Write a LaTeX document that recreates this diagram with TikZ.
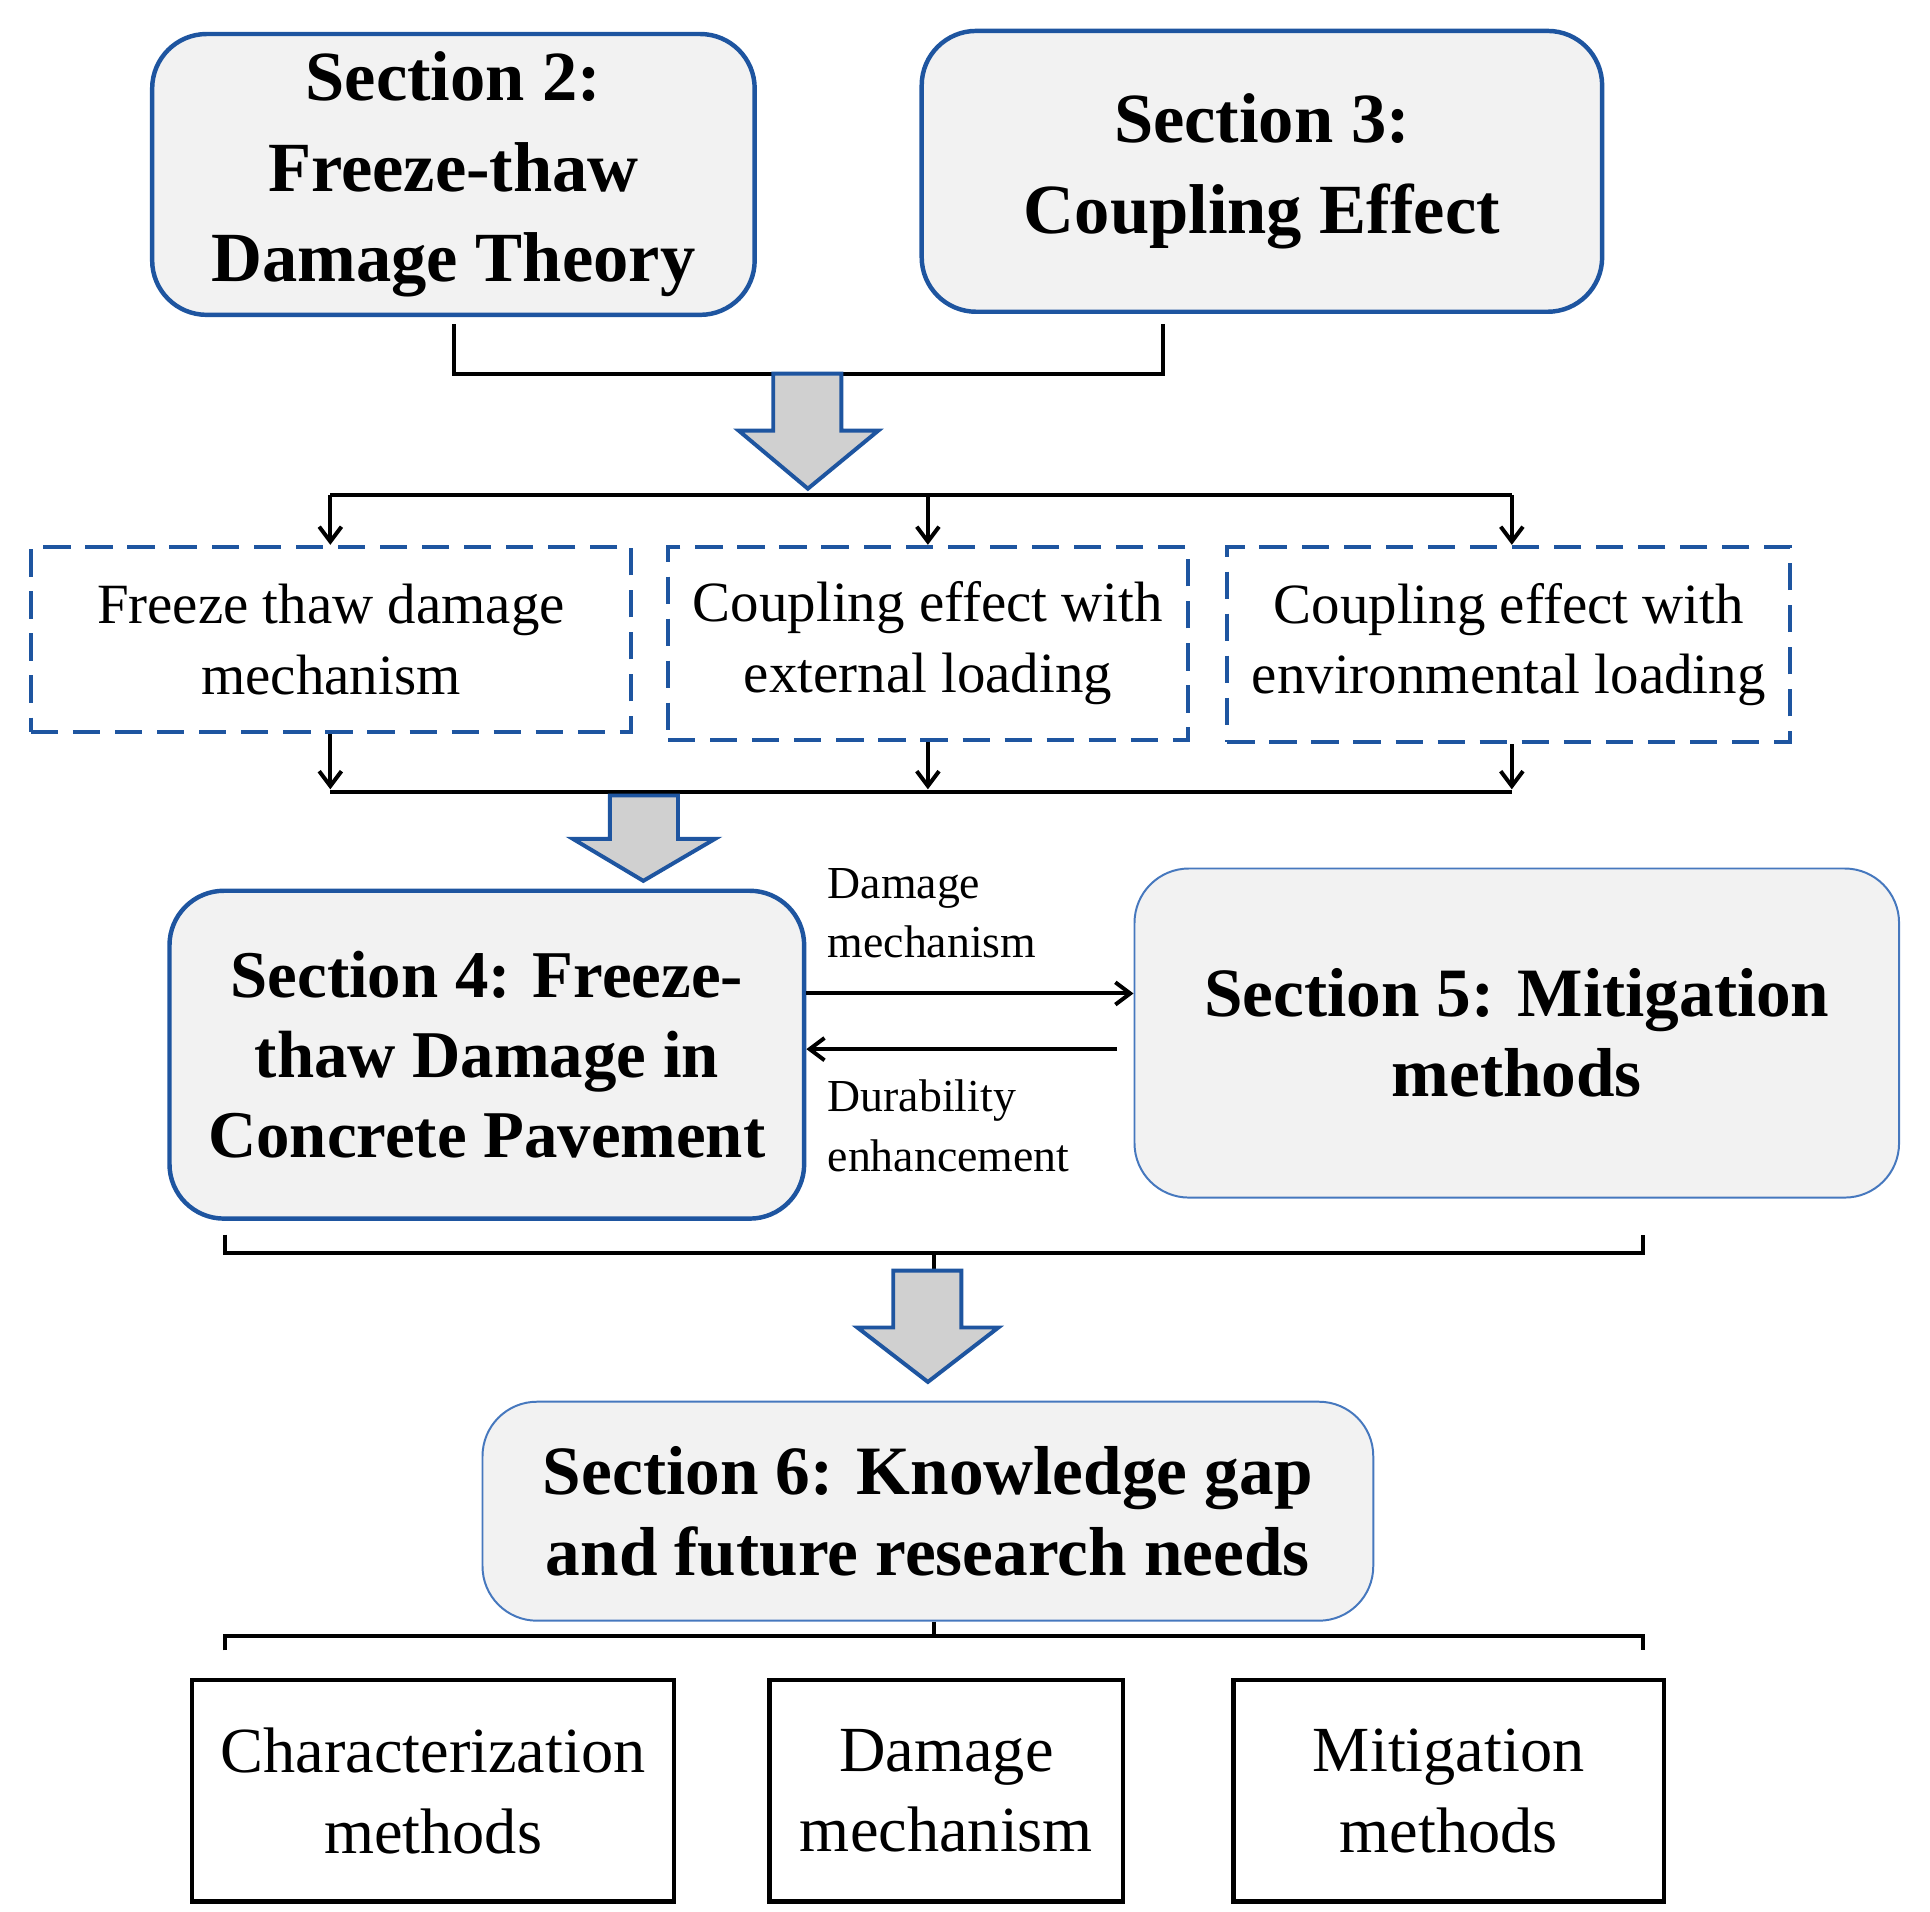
\documentclass[tikz,border=0pt]{standalone}
\usepackage{fontspec}
\setmainfont{Liberation Serif}
\usetikzlibrary{arrows.meta}
\definecolor{bl}{RGB}{30,85,160}
\definecolor{lbl}{RGB}{70,120,190}
\definecolor{bx}{RGB}{242,242,242}
\definecolor{ar}{RGB}{208,208,208}
\begin{document}
\begin{tikzpicture}[x=0.5pt,y=-0.5pt,
 sec/.style={draw=bl,line width=1.8pt,fill=bx,rounded corners=22pt,align=center,font=\fontsize{28.5}{36.5}\selectfont\bfseries},
 secl/.style={draw=lbl,line width=0.8pt,fill=bx,rounded corners=22pt,align=center,font=\fontsize{28}{32.5}\selectfont\bfseries},
 dbox/.style={draw=bl,line width=1.6pt,dash pattern=on 11pt off 6pt,align=center,font=\fontsize{23}{28.5}\selectfont},
 bot/.style={draw=black,line width=1.7pt,align=center,font=\fontsize{26}{32.5}\selectfont},
 ln/.style={line width=1.6pt},
 arr/.style={ln,-{Straight Barb[length=6pt,width=9pt]}},
 big/.style={draw=bl,line width=1.6pt,fill=ar,line join=miter}]
\useasboundingbox (0,0) rectangle (1560,1545);
% boxes
\node[sec,minimum width=243.5pt,minimum height=113.5pt] (s2) at (366.5,141) {Section 2:\\Freeze-thaw\\Damage Theory};
\node[sec,minimum width=275pt,minimum height=113.5pt] (s3) at (1020,138.5) {Section 3:\\Coupling Effect};
\node[dbox,minimum width=242.5pt,minimum height=75pt] (d1) at (267.5,517) {Freeze thaw damage\\mechanism};
\node[dbox,minimum width=210pt,minimum height=78pt] (d2) at (750,520) {Coupling effect with\\external loading};
\node[dbox,minimum width=227.5pt,minimum height=79pt] (d3) at (1219.5,521) {Coupling effect with\\environmental loading};
\node[sec,minimum width=256.5pt,minimum height=132.5pt,font=\fontsize{27}{32.5}\selectfont\bfseries] (s4) at (393.5,852.5) {Section 4: Freeze-\\thaw Damage in\\Concrete Pavement};
\node[secl,minimum width=309pt,minimum height=133pt] (s5) at (1226,835) {Section 5: Mitigation\\methods};
\node[secl,minimum width=360pt,minimum height=88.5pt] (s6) at (750,1221.5) {Section 6: Knowledge gap\\and future research needs};
\node[bot,minimum width=195pt,minimum height=89.5pt] (b1) at (350,1447.5) {Characterization\\methods};
\node[bot,minimum width=143pt,minimum height=89.5pt] (b2) at (765,1447.5) {Damage\\mechanism};
\node[bot,minimum width=174pt,minimum height=89.5pt] (b3) at (1171,1447.5) {Mitigation\\methods};
% bracket 1
\coordinate (c1) at (367,262); \coordinate (c2) at (940,262);
\draw[ln] (c1) -- (367,302) -- (940,302) -- (c2);
\draw[big] (625,302) -- (680,302) -- (680,348) -- (710,348) -- (653,395) -- (597,348) -- (625,348) -- cycle;
\draw[ln] (267,400) -- (1222,400);
\draw[arr] (267,400) -- (d1.north -| 267,0);
\draw[arr] (750,400) -- (d2.north);
\draw[arr] (1222,400) -- (d3.north -| 1222,0);
\draw[arr] (d1.south -| 267,0) -- (267,638);
\draw[arr] (d2.south) -- (750,638);
\draw[arr] (d3.south -| 1222,0) -- (1222,638);
\draw[ln] (267,640) -- (1222,640);
\draw[big] (493,643) -- (548,643) -- (548,678) -- (578,678) -- (520,712) -- (463,678) -- (493,678) -- cycle;
% side arrows
\draw[arr] (s4.east |- 0,803) -- (s5.west |- 0,803);
\draw[arr] (903,848) -- (s4.east |- 0,848);
\node[anchor=west,align=left,font=\fontsize{18.5}{24}\selectfont] (l1) at (662,738) {Damage\\mechanism};
\node[anchor=west,align=left,font=\fontsize{18.5}{24}\selectfont] (l2) at (662,910) {Durability\\enhancement};
% bracket 2
\draw[ln] (182,998) -- (182,1013) -- (1328,1013) -- (1328,998);
\draw[ln] (755,1013) -- (755,1027);
\draw[big] (722,1027) -- (777,1027) -- (777,1073) -- (807,1073) -- (750,1117) -- (693,1073) -- (722,1073) -- cycle;
% bracket 3
\draw[ln] (s6.south -| 755,0) -- (755,1322);
\draw[ln] (182,1334) -- (182,1322) -- (1328,1322) -- (1328,1334);
\end{tikzpicture}
\end{document}
